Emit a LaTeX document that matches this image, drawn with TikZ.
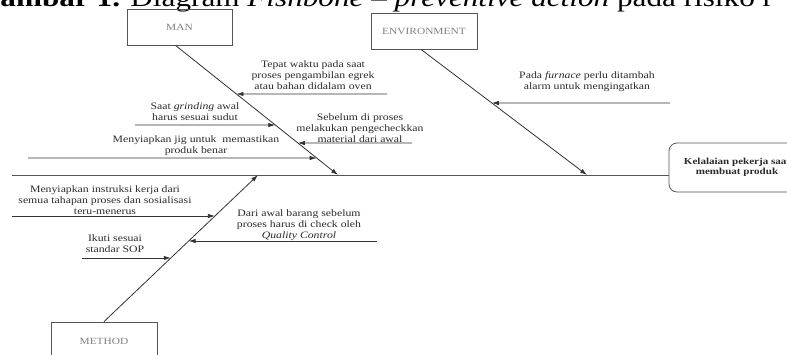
\documentclass[tikz,border=0pt]{standalone}
\usepackage{fontspec}
\setmainfont{Liberation Serif}[FakeStretch=1.2]
\usetikzlibrary{arrows.meta}
\definecolor{linecol}{HTML}{333333}
\definecolor{boxcol}{HTML}{555555}
\definecolor{labcol}{HTML}{808080}
\definecolor{txtcol}{HTML}{2A2A2A}
\begin{document}
\begin{tikzpicture}[x=1pt,y=-1pt,
  catbox/.style={draw=boxcol, line width=0.8pt, inner sep=0pt, text=labcol,
    font=\fontsize{9.5}{11}\selectfont},
  effbox/.style={draw=boxcol, line width=0.8pt, rounded corners=8pt, inner sep=0pt,
    align=center, text=txtcol, font=\fontsize{9.2}{10.5}\selectfont\bfseries},
  txt/.style={align=center, inner sep=0pt, text=txtcol, font=\fontsize{9.8}{11}\selectfont},
  bone/.style={draw=linecol, line width=0.8pt},
  sub/.style={draw=linecol, line width=0.8pt, -{Latex[length=7pt,width=4.5pt]}},
]
\useasboundingbox (0,0) rectangle (787,354);
\clip (0,0) rectangle (787,354);

% title (cut at the top)
\node[anchor=base west, inner sep=0pt, font=\fontsize{26}{26}\selectfont] (title) at (-24,6)
  {\textbf{Gambar 1.} Diagram \textit{Fishbone} – \textit{preventive action} pada risiko r};

% category boxes
\node[catbox, minimum width=105pt, minimum height=36pt] (man) at (179.5,27) {MAN};
\node[catbox, minimum width=106pt, minimum height=36pt] (env) at (424,31) {ENVIRONMENT};
\node[catbox, minimum width=106pt, minimum height=38pt] (met) at (104,341) {METHOD};
\node[effbox, minimum width=136pt, minimum height=49pt] (eff) at (737,167.5)
  {Kelalaian pekerja saat\\membuat produk};

% spine
\coordinate (spineL) at (12,175);
\draw[bone, draw=boxcol] (spineL) -- (spineL -| eff.west);

% main bones
\coordinate (manTop) at ([xshift=-4pt]man.south);
\coordinate (manEnd) at (338,175);
\coordinate (envTop) at ([xshift=-3pt]env.south);
\coordinate (envEnd) at (587,175);
\coordinate (metBot) at (met.north);
\coordinate (metEnd) at (258,175);
\draw[sub] (manTop) -- (manEnd);
\draw[sub] (envTop) -- (envEnd);
\draw[sub] (metBot) -- (metEnd);

% sub-causes: MAN
\coordinate (a1) at (387,94);   \coordinate (a1h) at (0,94);
\coordinate (a2) at (135,125);  \coordinate (a2h) at (800,125);
\coordinate (a3) at (412,143);  \coordinate (a3h) at (0,143);
\coordinate (a4) at (28,158);   \coordinate (a4h) at (800,158);
\draw[sub] (a1) -- (intersection of manTop--manEnd and a1--a1h);
\draw[sub] (a2) -- (intersection of manTop--manEnd and a2--a2h);
\draw[sub] (a3) -- (intersection of manTop--manEnd and a3--a3h);
\draw[sub] (a4) -- (intersection of manTop--manEnd and a4--a4h);

% sub-causes: ENVIRONMENT
\coordinate (a5) at (670,103);  \coordinate (a5h) at (0,103);
\draw[sub] (a5) -- (intersection of envTop--envEnd and a5--a5h);

% sub-causes: METHOD
\coordinate (a6) at (12,216);   \coordinate (a6h) at (800,216);
\coordinate (a7) at (377,241);  \coordinate (a7h) at (0,241);
\coordinate (a8) at (82,258);   \coordinate (a8h) at (800,258);
\draw[sub] (a6) -- (intersection of metBot--metEnd and a6--a6h);
\draw[sub] (a7) -- (intersection of metBot--metEnd and a7--a7h);
\draw[sub] (a8) -- (intersection of metBot--metEnd and a8--a8h);

% labels
\node[txt] (t1) at (313,75) {Tepat waktu pada saat\\proses pengambilan egrek\\atau bahan didalam oven};
\node[txt] (t2) at (195,112) {Saat \textit{grinding} awal\\harus sesuai sudut};
\node[txt] (t3) at (360,128) {Sebelum di proses\\melakukan pengecheckkan\\material dari awal};
\node[txt] (t4) at (196,146) {Menyiapkan jig untuk\ \ memastikan\\produk benar};
\node[txt] (t5) at (587,82) {Pada \textit{furnace} perlu ditambah\\alarm untuk mengingatkan};
\node[txt] (t6) at (105,200) {Menyiapkan instruksi kerja dari\\semua tahapan proses dan sosialisasi\\teru-menerus};
\node[txt] (t7) at (299,225) {Dari awal barang sebelum\\proses harus di check oleh\\\textit{Quality Control}};
\node[txt] (t8) at (115,244) {Ikuti sesuai\\standar SOP};
\end{tikzpicture}
\end{document}
